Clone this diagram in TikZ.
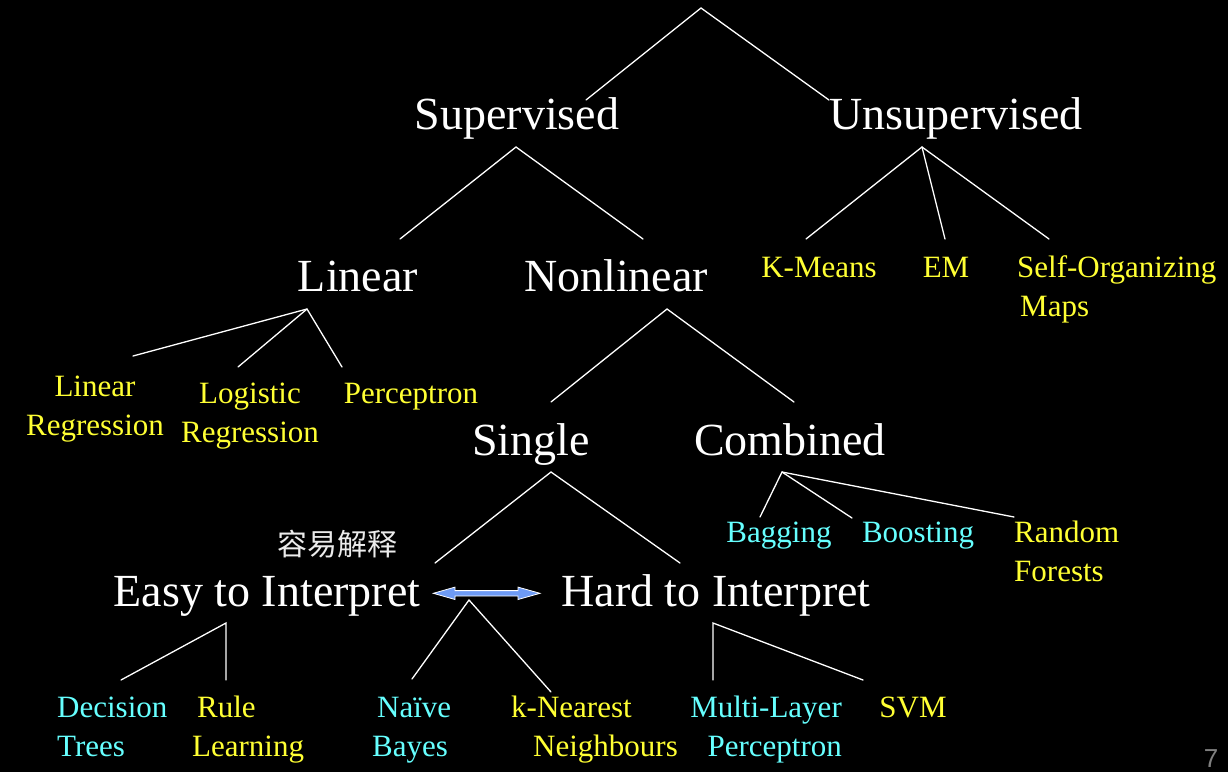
\documentclass[tikz,border=0pt]{standalone}
\usepackage{fontspec}
\setmainfont{Liberation Serif}
\newfontfamily\cjkfont{Noto Sans CJK SC}
\newfontfamily\pagefont{Liberation Sans}
\definecolor{leafyellow}{RGB}{255,255,51}
\definecolor{leafcyan}{RGB}{102,255,255}
\definecolor{arrowblue}{RGB}{110,155,245}
\definecolor{pagegray}{RGB}{128,128,128}
% two stacked lines whose first baseline is the node's base
\newcommand\stacked[3]{\begin{tabular}[t]{@{}#1@{}}#2\\#3\end{tabular}}

\begin{document}
\begin{tikzpicture}[x=1pt,y=-1pt,
  big/.style={text=white,font=\fontsize{46}{50}\selectfont,inner sep=0pt,anchor=base},
  leaf/.style={font=\fontsize{31}{39}\selectfont,inner sep=0pt,anchor=base},
  yel/.style={leaf,text=leafyellow},
  cyn/.style={leaf,text=leafcyan},
  branch/.style={white,line width=1.3pt,line cap=round,line join=miter}]
\fill[black] (0,0) rectangle (1228,772);
\useasboundingbox (0,0) rectangle (1228,772);

% category labels
\node[big] (sup)    at (517,129) {Supervised};
\node[big] (uns)    at (956,129) {Unsupervised};
\node[big] (lin)    at (358,291) {Linear};
\node[big] (nonlin) at (616,291) {Nonlinear};
\node[big] (single) at (531,455) {Single};
\node[big] (comb)   at (790,455) {Combined};
\node[big] (easy)   at (267,606) {Easy to Interpret};
\node[big] (hard)   at (716,606) {Hard to Interpret};
\node[text=white!92!black,font=\cjkfont\fontsize{30}{32}\selectfont,inner sep=0pt,anchor=base]
  (easycn) at (337,555) {容易解释};

% methods
\node[yel] (linreg) at (95,396) {\stacked{c}{Linear}{Regression}};
\node[yel] (logreg) at (250,403) {\stacked{c}{Logistic}{Regression}};
\node[yel] (perc)   at (411,403) {Perceptron};
\node[yel] (kmeans) at (819,277) {K-Means};
\node[yel] (em)     at (946,277) {EM};
\node[yel,anchor=base west] (som) at (1017,277) {\stacked{l}{Self-Organizing}{\hspace*{3pt}Maps}};
\node[cyn] (bag)    at (779,542) {Bagging};
\node[cyn] (boost)  at (918,542) {Boosting};
\node[yel,anchor=base west] (rf)  at (1014,542) {\stacked{l}{Random}{Forests}};
\node[cyn,anchor=base west] (dt)  at (57,717) {\stacked{l}{Decision}{Trees}};
\node[yel,anchor=base west] (rl)  at (192,717) {\stacked{l}{\hspace*{5pt}Rule}{Learning}};
\node[cyn,anchor=base west] (nb)  at (372,717) {\stacked{l}{\hspace*{5pt}Naïve}{Bayes}};
\node[yel,anchor=base west] (knn) at (511,717) {\stacked{l}{k-Nearest}{\hspace*{22pt}Neighbours}};
\node[cyn,anchor=base east] (mlp) at (842,717) {\stacked{r}{Multi-Layer}{Perceptron}};
\node[yel] (svm)    at (913,717) {SVM};

% fork points of the tree
\coordinate (rootFork)   at (701,8);
\coordinate (supTop)     at (586,100);
\coordinate (unsTop)     at (829,100);
\coordinate (supFork)    at (516,147);
\coordinate (linTop)     at (400,239);
\coordinate (nonlinTop)  at (643,239);
\coordinate (unsFork)    at (922,147);
\coordinate (kmTop)      at (806,239);
\coordinate (emTop)      at (945,239);
\coordinate (somTop)     at (1049,239);
\coordinate (linFork)    at (307,309);
\coordinate (lrTop)      at (133,356);
\coordinate (logTop)     at (238,367);
\coordinate (percTop)    at (342,367);
\coordinate (nonlinFork) at (667,309);
\coordinate (singleTop)  at (551,402);
\coordinate (combTop)    at (794,402);
\coordinate (singleFork) at (551,472);
\coordinate (easyTop)    at (435,563);
\coordinate (hardTop)    at (680,563);
\coordinate (combFork)   at (782,472);
\coordinate (bagTop)     at (760,517);
\coordinate (boostTop)   at (852,518);
\coordinate (rfTop)      at (1014,517);
\coordinate (easyFork)   at (226,623);
\coordinate (dtTop)      at (121,680);
\coordinate (rlTop)      at (226,680);
\coordinate (nbFork)     at (469,600);
\coordinate (nbTop)      at (412,679);
\coordinate (knnTop)     at (551,692);
\coordinate (hardFork)   at (713,623);
\coordinate (mlpTop)     at (713,680);
\coordinate (svmTop)     at (863,680);

% branches
\draw[branch] (supTop) -- (rootFork) -- (unsTop);
\draw[branch] (linTop) -- (supFork) -- (nonlinTop);
\draw[branch] (kmTop) -- (unsFork) -- (somTop);
\draw[branch] (unsFork) -- (emTop);
\draw[branch] (lrTop) -- (linFork) -- (percTop);
\draw[branch] (linFork) -- (logTop);
\draw[branch] (singleTop) -- (nonlinFork) -- (combTop);
\draw[branch] (easyTop) -- (singleFork) -- (hardTop);
\draw[branch] (bagTop) -- (combFork) -- (rfTop);
\draw[branch] (combFork) -- (boostTop);
\draw[branch] (dtTop) -- (easyFork) -- (rlTop);
\draw[branch] (nbTop) -- (nbFork) -- (knnTop);
\draw[branch] (mlpTop) -- (hardFork) -- (svmTop);

% double arrow between the two interpretability groups
\begin{scope}[shift={(486.7,593.3)}]
  \filldraw[fill=arrowblue,draw=white,line width=0.8pt,line join=miter]
    (-53.4,0) -- (-31.7,-6.2) -- (-31.7,-2.7) -- (31.3,-2.7) -- (31.3,-6.2) -- (53.3,0)
    -- (31.3,6.2) -- (31.3,2.7) -- (-31.7,2.7) -- (-31.7,6.2) -- cycle;
\end{scope}

% page number
\node[text=pagegray,font=\pagefont\fontsize{26}{26}\selectfont,inner sep=0pt,anchor=base]
  (pageno) at (1211,767) {7};
\end{tikzpicture}
\end{document}
